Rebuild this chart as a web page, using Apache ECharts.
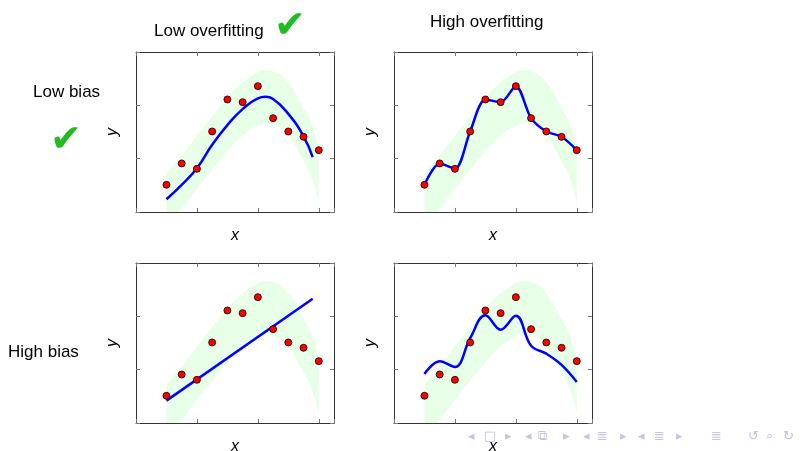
<!DOCTYPE html>
<html>
<head>
<meta charset="utf-8">
<script src="https://cdn.jsdelivr.net/npm/echarts@6/dist/echarts.min.js"></script>
<style>
  html, body { margin: 0; padding: 0; background: #fff; }
  #chart { width: 801px; height: 451px; }
</style>
</head>
<body>
<div id="chart"></div>
<script>
  // noisy samples, same in all four panels
  var pointX = [0.5, 0.75, 1.0, 1.25, 1.5, 1.75, 2.0, 2.25, 2.5, 2.75, 3.0];
  var pointY = [0.51, 0.91, 0.81, 1.51, 2.11, 2.06, 2.36, 1.76, 1.51, 1.41, 1.16];

  // green band around the true curve
  var bandX = [0.5, 0.75, 1.0, 1.25, 1.5, 1.75, 2.0, 2.125, 2.25, 2.5, 2.75, 2.875, 3.0];
  var bandUpper = [0.73, 1.06, 1.43, 1.79, 2.14, 2.43, 2.62, 2.66, 2.64, 2.43, 1.95, 1.68, 1.17];
  var bandLower = [-0.27, 0.06, 0.43, 0.79, 1.14, 1.43, 1.62, 1.66, 1.64, 1.43, 0.95, 0.68, 0.17];

  // fitted curves
  var goodFitX = [0.5, 0.75, 1.0, 1.25, 1.5, 1.75, 2.0, 2.125, 2.25, 2.5, 2.75, 2.9];
  var goodFitY = [0.24, 0.51, 0.82, 1.26, 1.63, 1.93, 2.13, 2.16, 2.12, 1.84, 1.42, 1.03];
  var linearFitX = [0.5, 2.9];
  var linearFitY = [0.42, 2.33];
  var wigglyFitY = [0.92, 1.16, 1.05, 1.59, 2.02, 1.75, 2.01, 1.45, 1.30, 1.09, 0.77];

  var xTicks = [0, 1, 2, 3];
  var yTicks = [0, 1, 2, 3];

  var font = "'Liberation Sans', Arial, sans-serif";
  var pairs = function (xs, ys) { return xs.map(function (x, i) { return [x, ys[i]]; }); };

  var panels = [
    { left: 136, top: 52, lineX: goodFitX, lineY: goodFitY, smooth: true },
    { left: 394, top: 52, lineX: pointX, lineY: pointY, smooth: 0.3 },
    { left: 136, top: 263, lineX: linearFitX, lineY: linearFitY, smooth: false },
    { left: 394, top: 263, lineX: pointX, lineY: wigglyFitY, smooth: 0.4 }
  ];

  var grid = [], xAxis = [], yAxis = [], series = [];
  var axisBits = function () {
    return {
      z: 10,
      axisLine: { show: true, onZero: false, lineStyle: { color: '#333', width: 1 } },
      axisTick: { show: true, inside: true, length: 4, lineStyle: { color: '#777', width: 1 } },
      axisLabel: { show: false },
      splitLine: { show: false },
      nameLocation: 'middle',
      nameTextStyle: { fontStyle: 'italic', fontSize: 16, color: '#000', fontFamily: font }
    };
  };

  panels.forEach(function (p, i) {
    grid.push({ left: p.left, top: p.top, width: 198, height: 160, outerBoundsMode: 'none' });
    ['bottom', 'top'].forEach(function (pos) {
      xAxis.push(Object.assign(axisBits(), { gridIndex: i, type: 'value', position: pos,
        min: xTicks[0], max: 3.25, interval: 1, name: pos === 'bottom' ? 'x' : '', nameGap: 16 }));
    });
    ['left', 'right'].forEach(function (pos) {
      yAxis.push(Object.assign(axisBits(), { gridIndex: i, type: 'value', position: pos,
        min: yTicks[0], max: yTicks[yTicks.length - 1], interval: 1,
        name: pos === 'left' ? 'y' : '', nameGap: 15, nameRotate: 90 }));
    });
    var ax = { xAxisIndex: 2 * i, yAxisIndex: 2 * i };
    // green from the upper edge down, then white from the lower edge down
    series.push(Object.assign({ type: 'line', data: pairs(bandX, bandUpper), smooth: true, symbol: 'none',
      lineStyle: { opacity: 0 }, areaStyle: { color: '#e6ffe6', opacity: 1, origin: 'start' }, silent: true, z: 1 }, ax));
    series.push(Object.assign({ type: 'line', data: pairs(bandX, bandLower), smooth: true, symbol: 'none',
      lineStyle: { opacity: 0 }, areaStyle: { color: '#ffffff', opacity: 1, origin: 'start' }, silent: true, z: 2 }, ax));
    series.push(Object.assign({ type: 'line', data: pairs(p.lineX, p.lineY), smooth: p.smooth,
      symbol: 'none', lineStyle: { color: '#0000ff', width: 2.5 }, z: 3 }, ax));
    series.push(Object.assign({ type: 'scatter', data: pairs(pointX, pointY), symbolSize: 7,
      itemStyle: { color: '#ff0000', borderColor: '#000', borderWidth: 0.8, opacity: 1 }, z: 4 }, ax));
  });

  var label = function (text, x, y) {
    return { type: 'text', x: x, y: y, style: { text: text, fontSize: 17, fontFamily: font,
      fill: '#000', verticalAlign: 'middle' } };
  };
  var check = function (x, y) {
    return { type: 'text', x: x, y: y, style: { text: '\u2714', fontSize: 38,
      fontFamily: "'DejaVu Sans'", fill: '#22bb22', verticalAlign: 'middle' } };
  };

  // beamer navigation symbols
  var navColor = '#c4c4e4';
  var nav = [['\u25C2', 468], ['\u25A1', 484], ['\u25B8', 505], ['\u25C2', 525], ['\u29C9', 538], ['\u25B8', 563],
    ['\u25C2', 583], ['\u2263', 597], ['\u25B8', 620], ['\u25C2', 638], ['\u2263', 654], ['\u25B8', 676],
    ['\u2263', 711], ['\u21BA', 748], ['\u2315', 766], ['\u21BB', 783]].map(function (n) {
      return { type: 'text', x: n[1], y: 437, style: { text: n[0], fontSize: 13, fontFamily: "'DejaVu Sans'",
        fill: navColor, verticalAlign: 'middle' } };
    });

  var chart = echarts.init(document.getElementById('chart'));
  chart.setOption({
    animation: false,
    grid: grid,
    xAxis: xAxis,
    yAxis: yAxis,
    series: series,
    graphic: [
      label('Low overfitting', 154, 31),
      check(274, 27),
      label('High overfitting', 430, 22),
      label('Low bias', 33, 92),
      check(50, 141),
      label('High bias', 8, 352)
    ].concat(nav)
  });
</script>
</body>
</html>
